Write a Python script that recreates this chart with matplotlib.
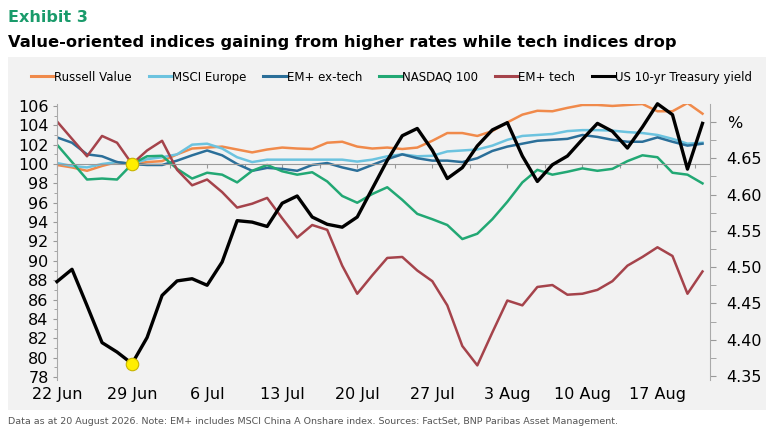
import numpy as np
import matplotlib
matplotlib.use("Agg")
import matplotlib.pyplot as plt
from matplotlib.patches import Rectangle
from matplotlib.ticker import MultipleLocator

# business days from 22 Jun to 20 Aug
days = np.arange(44)
tick_days = [0, 5, 10, 15, 20, 25, 30, 35, 40]
tick_labels = ['22 Jun', '29 Jun', '6 Jul', '13 Jul', '20 Jul', '27 Jul', '3 Aug', '10 Aug', '17 Aug']

russell_value = [99.9, 99.65, 99.3, 99.8, 100.2, 100.0, 100.2, 100.3, 101.0, 101.6,
                 101.7, 101.8, 101.5, 101.2, 101.5, 101.7, 101.6, 101.55, 102.2, 102.3,
                 101.8, 101.6, 101.7, 101.55, 101.7, 102.4, 103.2, 103.2, 102.9, 103.4,
                 104.3, 105.1, 105.5, 105.45, 105.8, 106.1, 106.1, 106.0, 106.1, 106.2,
                 105.45, 105.45, 106.3, 105.2]
msci_europe = [100.1, 99.8, 99.65, 100.0, 100.2, 100.0, 100.5, 100.7, 101.0, 102.0,
               102.1, 101.6, 100.7, 100.2, 100.45, 100.45, 100.45, 100.45, 100.45, 100.45,
               100.25, 100.45, 100.8, 101.0, 100.8, 100.85, 101.3, 101.4, 101.5, 101.9,
               102.5, 102.9, 103.0, 103.1, 103.4, 103.5, 103.5, 103.45, 103.3, 103.2,
               103.0, 102.6, 102.1, 102.2]
em_ex_tech = [102.75, 102.2, 101.0, 100.8, 100.2, 100.0, 99.9, 99.9, 100.35, 100.9,
              101.4, 100.9, 100.0, 99.3, 99.6, 99.5, 99.3, 99.9, 100.1, 99.65,
              99.3, 99.9, 100.5, 101.0, 100.6, 100.35, 100.35, 100.2, 100.6, 101.35,
              101.8, 102.1, 102.4, 102.5, 102.6, 103.0, 102.8, 102.5, 102.3, 102.3,
              102.75, 102.3, 101.9, 102.1]
nasdaq_100 = [102.0, 100.2, 98.4, 98.5, 98.4, 100.0, 100.8, 100.85, 99.5, 98.5,
              99.1, 98.9, 98.1, 99.3, 99.9, 99.25, 98.9, 99.15, 98.2, 96.7,
              96.0, 96.9, 97.6, 96.3, 94.85, 94.3, 93.7, 92.25, 92.8, 94.3,
              96.1, 98.1, 99.4, 98.9, 99.2, 99.55, 99.3, 99.5, 100.3, 100.9,
              100.7, 99.1, 98.9, 98.0]
em_tech = [104.4, 102.6, 100.8, 102.9, 102.2, 100.0, 101.4, 102.4, 99.4, 97.8,
           98.4, 97.1, 95.5, 95.9, 96.5, 94.4, 92.4, 93.7, 93.2, 89.5,
           86.6, 88.5, 90.3, 90.4, 89.0, 87.9, 85.4, 81.2, 79.2, 82.6,
           85.9, 85.4, 87.3, 87.5, 86.5, 86.6, 87.0, 87.9, 89.5, 90.4,
           91.4, 90.5, 86.6, 88.9]
us_10yr = [4.480, 4.497, 4.447, 4.396, 4.383, 4.367, 4.403, 4.461, 4.481, 4.484,
           4.475, 4.507, 4.564, 4.562, 4.556, 4.588, 4.598, 4.569, 4.559, 4.555,
           4.569, 4.608, 4.647, 4.681, 4.691, 4.661, 4.622, 4.637, 4.667, 4.689,
           4.699, 4.653, 4.618, 4.641, 4.653, 4.676, 4.698, 4.687, 4.664, 4.693,
           4.725, 4.710, 4.635, 4.698]

series = [('Russell Value', russell_value, '#f08a4b'),
          ('MSCI Europe', msci_europe, '#6cc3df'),
          ('EM+ ex-tech', em_ex_tech, '#2b6f99'),
          ('NASDAQ 100', nasdaq_100, '#22a874'),
          ('EM+ tech', em_tech, '#a5434b')]

plt.rcParams['font.family'] = 'DejaVu Sans'

fig = plt.figure(figsize=(7.74, 4.40), dpi=100)
fig.patches.append(Rectangle((8 / 774, 1 - 410 / 440), 758 / 774, 353 / 440,
                             transform=fig.transFigure, facecolor='#f2f2f2',
                             edgecolor='none', zorder=-1))

ax = fig.add_axes([57 / 774, 1 - 380 / 440, 653 / 774, 276 / 440])
ax.patch.set_visible(False)
handles = []
for name, vals, col in series:
    h, = ax.plot(days, vals, color=col, lw=1.8, label=name)
    handles.append(h)
ax.plot(days[5], 100, 'o', ms=9, mfc='#ffee00', mec='#c8b400', mew=0.8, zorder=5)

ax.set_xlim(0, 43.5)
ax.set_ylim(77.69, 106.2)
ax.yaxis.set_major_locator(MultipleLocator(2))
ax.yaxis.set_minor_locator(MultipleLocator(1))
ax.tick_params(axis='y', which='both', direction='out', color='#999999',
               labelsize=11.5, pad=3)
ax.tick_params(axis='y', which='major', length=3)
ax.tick_params(axis='y', which='minor', length=2)
for s in ['top', 'right']:
    ax.spines[s].set_visible(False)
ax.spines['left'].set_color('#aaaaaa')
ax.spines['bottom'].set_position(('data', 100))
ax.spines['bottom'].set_color('#999999')
ax.set_xticks(np.arange(0, 44, 2.5))
ax.tick_params(axis='x', direction='out', length=3, color='#999999', labelbottom=False)

sec = ax.secondary_xaxis('bottom')
sec.set_xticks(tick_days, tick_labels)
sec.tick_params(length=0, labelsize=11.5, pad=5)
sec.spines['bottom'].set_visible(False)

ax2 = ax.twinx()
h, = ax2.plot(days, us_10yr, color='black', lw=2.4, label='US 10-yr Treasury yield',
              clip_on=False)
handles.append(h)
ax2.plot(days[5], us_10yr[5], 'o', ms=9, mfc='#ffee00', mec='#c8b400', mew=0.8,
         zorder=5)
ax2.set_ylim(4.3445, 4.7247)
ax2.set_yticks(np.arange(4.35, 4.701, 0.05))
ax2.set_yticklabels(['4.35', '4.40', '4.45', '4.50', '4.55', '4.60', '4.65', '%'])
ax2.yaxis.set_minor_locator(MultipleLocator(0.025))
ax2.tick_params(axis='y', which='both', direction='out', color='#999999',
                labelsize=11.5, pad=8)
ax2.tick_params(axis='y', which='major', length=4)
ax2.tick_params(axis='y', which='minor', length=4)
for s in ['top', 'left', 'bottom']:
    ax2.spines[s].set_visible(False)
ax2.spines['right'].set_color('#aaaaaa')

leg = ax.legend(handles=handles, loc='center', ncol=6, frameon=False,
                bbox_to_anchor=(0.506, 1 - 77 / 440), bbox_transform=fig.transFigure,
                fontsize=8.5, handlelength=2.0, handletextpad=0.0, columnspacing=1.4)
for line in leg.get_lines():
    line.set_linewidth(2.2)

fig.text(8 / 774, 1 - 17 / 440, 'Exhibit 3', color='#1a9b6b', fontsize=11.5,
         fontweight='bold', va='center')
fig.text(8 / 774, 1 - 43 / 440,
         'Value-oriented indices gaining from higher rates while tech indices drop',
         color='black', fontsize=11.7, fontweight='bold', va='center')
fig.text(8 / 774, 1 - 421 / 440,
         'Data as at 20 August 2026. Note: EM+ includes MSCI China A Onshare index. '
         'Sources: FactSet, BNP Paribas Asset Management.',
         color='#555555', fontsize=6.8, va='center')

fig.savefig('out.png', dpi=100)
